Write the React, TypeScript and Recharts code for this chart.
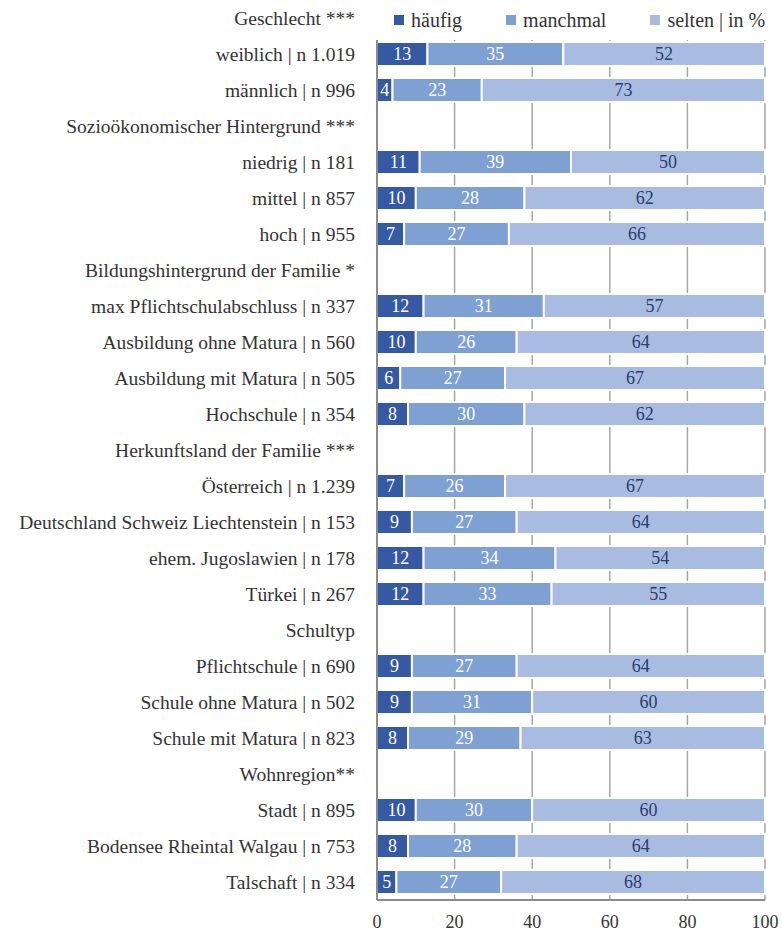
import React from "react";
import {
  BarChart,
  Bar,
  XAxis,
  YAxis,
  CartesianGrid,
  LabelList,
} from "recharts";

const categories = [
  "Geschlecht ***",
  "weiblich | n 1.019",
  "männlich | n 996",
  "Sozioökonomischer Hintergrund ***",
  "niedrig | n 181",
  "mittel | n 857",
  "hoch | n 955",
  "Bildungshintergrund der Familie *",
  "max Pflichtschulabschluss | n 337",
  "Ausbildung ohne Matura | n 560",
  "Ausbildung mit Matura | n 505",
  "Hochschule | n 354",
  "Herkunftsland der Familie ***",
  "Österreich | n 1.239",
  "Deutschland Schweiz Liechtenstein | n 153",
  "ehem. Jugoslawien | n 178",
  "Türkei | n 267",
  "Schultyp",
  "Pflichtschule | n 690",
  "Schule ohne Matura | n 502",
  "Schule mit Matura | n 823",
  "Wohnregion**",
  "Stadt | n 895",
  "Bodensee Rheintal Walgau | n 753",
  "Talschaft | n 334",
];

// null = Überschriftszeile ohne Balken
const haeufig = [null, 13, 4, null, 11, 10, 7, null, 12, 10, 6, 8, null, 7, 9, 12, 12, null, 9, 9, 8, null, 10, 8, 5];
const manchmal = [null, 35, 23, null, 39, 28, 27, null, 31, 26, 27, 30, null, 26, 27, 34, 33, null, 27, 31, 29, null, 30, 28, 27];
const selten = [null, 52, 73, null, 50, 62, 66, null, 57, 64, 67, 62, null, 67, 64, 54, 55, null, 64, 60, 63, null, 60, 64, 68];

const xTicks = [0, 20, 40, 60, 80, 100];

const series = [
  { key: "haeufig", name: "häufig", color: "#3659a3", text: "#ffffff" },
  { key: "manchmal", name: "manchmal", color: "#7fa0d2", text: "#ffffff" },
  { key: "selten", name: "selten | in %", color: "#a8bce2", text: "#2c3d6b" },
];

const data = categories.map((name, i) => ({
  name,
  haeufig: haeufig[i],
  manchmal: manchmal[i],
  selten: selten[i],
}));

const FONT = "Liberation Serif, DejaVu Serif, serif";

// Legende als Overlay, damit sie keinen Platz im Plot belegt
function TopLegend() {
  return (
    <div
      style={{
        position: "absolute",
        top: 0,
        left: 370,
        width: 412,
        height: 40,
        display: "flex",
        alignItems: "center",
        background: "#fff",
        fontFamily: FONT,
        fontSize: 20,
        color: "#333",
      }}
    >
      {series.map((s, i) => (
        <div
          key={s.key}
          style={{
            display: "flex",
            alignItems: "center",
            marginLeft: i === 0 ? 24 : 44,
          }}
        >
          <span
            style={{
              display: "inline-block",
              width: 10,
              height: 10,
              background: s.color,
              marginRight: 7,
            }}
          />
          <span>{s.name}</span>
        </div>
      ))}
    </div>
  );
}

export default function App() {
  return (
    <div style={{ position: "absolute", left: 0, top: 0, width: 782, height: 933, background: "#fff" }}>
      <BarChart
        width={782}
        height={933}
        data={data}
        layout="vertical"
        margin={{ top: 0, right: 17, left: 0, bottom: 3 }}
        barSize={24}
      >
        <CartesianGrid
          horizontal={false}
          stroke="#a6a6a6"
          strokeWidth={1.5}
        />
        <XAxis
          type="number"
          domain={[0, 100]}
          ticks={xTicks}
          tickLine={false}
          tickMargin={9}
          axisLine={{ stroke: "#8c8c8c", strokeWidth: 2 }}
          tick={{ fontFamily: FONT, fontSize: 18, fill: "#333" }}
          interval={0}
        />
        <YAxis
          type="category"
          dataKey="name"
          width={377}
          tickLine={false}
          tickSize={0}
          tickMargin={22}
          axisLine={{ stroke: "#8c8c8c", strokeWidth: 2 }}
          tick={{ fontFamily: FONT, fontSize: 19.5, fill: "#333" }}
          interval={0}
        />
        {series.map((s) => (
          <Bar
            key={s.key}
            dataKey={s.key}
            name={s.name}
            stackId="a"
            fill={s.color}
            stroke="#fff"
            strokeWidth={2}
            isAnimationActive={false}
          >
            <LabelList
              dataKey={s.key}
              position="center"
              fill={s.text}
              style={{ fontFamily: FONT, fontSize: 18 }}
            />
          </Bar>
        ))}
      </BarChart>
      <TopLegend />
    </div>
  );
}
